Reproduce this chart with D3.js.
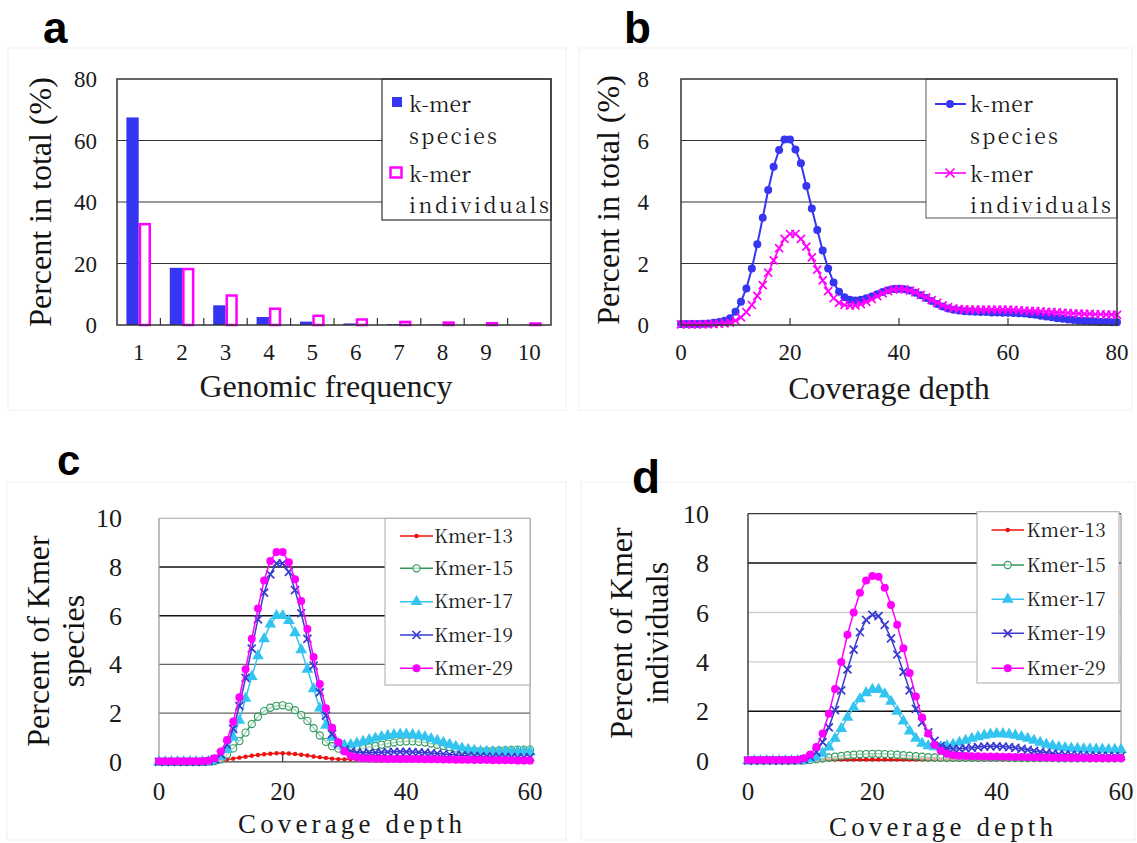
<!DOCTYPE html>
<html><head><meta charset="utf-8">
<script src="https://cdn.jsdelivr.net/npm/d3@7"></script>
<style>
body{margin:0;background:#fff}
svg{display:block}
</style>
</head><body>
<svg id="fig" width="1137" height="843"></svg>
<script>
// ---------------- data ----------------
// a: share of k-mer species / individuals by genomic frequency
const freqCategories = [1, 2, 3, 4, 5, 6, 7, 8, 9, 10];
const freqSpecies = [67.5, 18.6, 6.4, 2.6, 1.1, 0.5, 0.3, 0.15, 0.08, 0.05];
const freqIndividuals = [33.2, 18.6, 10.0, 5.7, 3.4, 2.2, 1.4, 1.2, 1.0, 0.9];

// b: depth distribution, depth 0..80
const depthB = d3.range(0, 81);
const bSpecies = [0.03,0.03,0.03,0.03,0.04,0.05,0.07,0.1,0.14,0.22,0.43,0.76,1.19,1.84,2.63,3.49,4.39,5.15,5.69,6.03,6.03,5.71,5.26,4.52,3.79,3.09,2.42,1.84,1.38,1.08,0.9,0.82,0.8,0.82,0.87,0.93,1.0,1.07,1.13,1.17,1.18,1.16,1.12,1.05,0.97,0.88,0.78,0.68,0.6,0.54,0.5,0.47,0.45,0.44,0.43,0.42,0.42,0.41,0.41,0.4,0.4,0.39,0.38,0.37,0.35,0.33,0.3,0.28,0.25,0.22,0.2,0.18,0.16,0.14,0.13,0.12,0.11,0.1,0.1,0.09,0.09];
const bIndividuals = [0.02,0.02,0.02,0.02,0.02,0.03,0.03,0.04,0.05,0.08,0.14,0.25,0.42,0.65,0.95,1.3,1.7,2.1,2.5,2.8,2.96,2.96,2.8,2.55,2.2,1.8,1.45,1.1,0.87,0.72,0.65,0.63,0.64,0.68,0.75,0.84,0.94,1.03,1.1,1.15,1.17,1.16,1.12,1.06,0.98,0.9,0.81,0.72,0.64,0.58,0.54,0.52,0.51,0.5,0.5,0.5,0.5,0.5,0.5,0.5,0.5,0.49,0.48,0.47,0.46,0.45,0.44,0.43,0.42,0.41,0.4,0.39,0.38,0.37,0.36,0.36,0.35,0.35,0.34,0.34,0.33];

// c, d: depth 0..60 for several k-mer sizes
const depthCD = d3.range(0, 61);
const kmerNames = ["Kmer-13", "Kmer-15", "Kmer-17", "Kmer-19", "Kmer-29"];

const cKmer13 = [0.01,0.01,0.01,0.01,0.01,0.01,0.01,0.01,0.02,0.03,0.06,0.09,0.13,0.17,0.21,0.25,0.28,0.31,0.33,0.35,0.35,0.34,0.32,0.29,0.26,0.22,0.19,0.16,0.13,0.11,0.1,0.1,0.1,0.1,0.1,0.1,0.1,0.1,0.1,0.1,0.1,0.09,0.09,0.09,0.09,0.09,0.08,0.08,0.08,0.08,0.08,0.07,0.07,0.07,0.07,0.07,0.06,0.06,0.06,0.06,0.06];
const cKmer15 = [0,0,0,0,0,0,0,0,0.01,0.03,0.1,0.3,0.55,0.85,1.2,1.55,1.85,2.08,2.22,2.3,2.32,2.27,2.12,1.92,1.68,1.38,1.08,0.82,0.64,0.54,0.5,0.5,0.52,0.55,0.6,0.65,0.7,0.75,0.79,0.82,0.84,0.84,0.82,0.79,0.75,0.7,0.65,0.6,0.55,0.51,0.48,0.46,0.45,0.45,0.46,0.47,0.48,0.49,0.5,0.5,0.5];
const cKmer17 = [0,0,0,0,0,0,0,0,0.01,0.05,0.2,0.5,1.0,1.7,2.6,3.5,4.35,5.05,5.65,6.0,6.0,5.8,5.3,4.6,3.8,3.0,2.2,1.5,1.0,0.75,0.68,0.7,0.76,0.83,0.9,0.97,1.03,1.08,1.11,1.13,1.13,1.11,1.07,1.02,0.95,0.87,0.79,0.71,0.63,0.56,0.5,0.46,0.43,0.42,0.41,0.41,0.41,0.41,0.41,0.41,0.41];
const cKmer19 = [0,0,0,0,0,0,0,0,0.02,0.1,0.3,0.7,1.35,2.3,3.45,4.65,5.85,6.95,7.7,8.15,8.15,7.8,7.05,6.1,5.05,3.95,2.85,1.9,1.15,0.72,0.5,0.42,0.38,0.37,0.37,0.38,0.39,0.4,0.41,0.41,0.41,0.4,0.39,0.38,0.36,0.34,0.32,0.3,0.28,0.26,0.24,0.23,0.22,0.21,0.2,0.2,0.19,0.19,0.18,0.18,0.18];
const cKmer29 = [0.02,0.02,0.02,0.02,0.02,0.02,0.02,0.02,0.05,0.15,0.42,0.9,1.65,2.65,3.8,5.05,6.3,7.45,8.25,8.62,8.62,8.2,7.5,6.6,5.45,4.3,3.2,2.2,1.4,0.8,0.42,0.25,0.18,0.15,0.14,0.13,0.13,0.12,0.12,0.12,0.12,0.11,0.11,0.1,0.1,0.1,0.09,0.09,0.08,0.08,0.08,0.07,0.07,0.07,0.06,0.06,0.06,0.06,0.05,0.05,0.05];

const dKmer13 = [0.01,0.01,0.01,0.01,0.01,0.01,0.01,0.01,0.01,0.01,0.02,0.03,0.04,0.05,0.05,0.05,0.05,0.05,0.05,0.05,0.05,0.05,0.05,0.05,0.05,0.05,0.05,0.05,0.05,0.05,0.05,0.05,0.05,0.05,0.05,0.05,0.05,0.05,0.05,0.05,0.05,0.04,0.04,0.04,0.04,0.04,0.04,0.04,0.04,0.04,0.04,0.04,0.04,0.04,0.04,0.04,0.04,0.04,0.04,0.04,0.04];
const dKmer15 = [0.01,0.01,0.01,0.01,0.01,0.01,0.01,0.01,0.01,0.01,0.03,0.06,0.09,0.13,0.16,0.19,0.22,0.24,0.26,0.27,0.28,0.28,0.27,0.26,0.24,0.22,0.2,0.18,0.16,0.14,0.13,0.12,0.12,0.12,0.12,0.12,0.12,0.12,0.12,0.12,0.12,0.12,0.12,0.11,0.11,0.11,0.11,0.11,0.11,0.11,0.1,0.1,0.1,0.1,0.1,0.1,0.1,0.1,0.1,0.1,0.1];
const dKmer17 = [0,0,0,0,0,0,0,0,0,0.02,0.08,0.15,0.3,0.55,0.9,1.3,1.75,2.15,2.5,2.75,2.88,2.88,2.7,2.4,2.0,1.6,1.2,0.9,0.7,0.6,0.56,0.56,0.6,0.66,0.74,0.82,0.9,0.97,1.03,1.07,1.09,1.09,1.07,1.03,0.97,0.9,0.82,0.74,0.66,0.6,0.55,0.52,0.5,0.49,0.48,0.47,0.46,0.46,0.45,0.45,0.45];
const dKmer19 = [0,0,0,0,0,0,0,0,0.01,0.05,0.15,0.35,0.75,1.35,2.05,2.85,3.7,4.5,5.2,5.7,5.9,5.85,5.5,4.95,4.3,3.6,2.85,2.1,1.55,1.15,0.8,0.6,0.5,0.47,0.48,0.5,0.52,0.55,0.57,0.58,0.58,0.57,0.55,0.52,0.48,0.44,0.4,0.36,0.32,0.29,0.26,0.25,0.24,0.23,0.22,0.21,0.2,0.2,0.19,0.19,0.18];
const dKmer29 = [0.03,0.03,0.03,0.03,0.03,0.03,0.03,0.03,0.04,0.1,0.25,0.55,1.1,1.9,2.9,4.0,5.1,6.0,6.8,7.3,7.48,7.45,7.0,6.3,5.5,4.55,3.55,2.6,1.75,1.1,0.65,0.4,0.28,0.22,0.2,0.19,0.18,0.18,0.17,0.17,0.17,0.16,0.16,0.15,0.15,0.14,0.14,0.13,0.13,0.12,0.12,0.12,0.11,0.11,0.11,0.1,0.1,0.1,0.1,0.1,0.1];

// tick labels
const aYTicks = [0, 20, 40, 60, 80];
const bXTicks = [0, 20, 40, 60, 80];
const bYTicks = [0, 2, 4, 6, 8];
const cdXTicks = [0, 20, 40, 60];
const cdYTicks = [0, 2, 4, 6, 8, 10];

// ---------------- drawing ----------------
const SERIF = '"Liberation Serif", Tinos, "Times New Roman", serif';
const SONG = '"Noto Serif CJK SC", "Liberation Serif", serif';
const SANS = '"Liberation Sans", Arimo, Arial, sans-serif';
const BLUE = "#3535f2", MAGENTA = "#ff00ff";
const seriesStyle = {
  "Kmer-13": {color: "#ee1111", marker: "dot", r: 2.2},
  "Kmer-15": {color: "#2f9a5c", marker: "ring", r: 3.6},
  "Kmer-17": {color: "#33c4f0", marker: "tri", r: 5.2},
  "Kmer-19": {color: "#3a3ad0", marker: "x", r: 4},
  "Kmer-29": {color: "#ff00ff", marker: "dot", r: 4}
};

const svg = d3.select("#fig");
svg.append("rect").attr("width", 1137).attr("height", 843).attr("fill", "#fff");

// faint chart-area outlines
[[8,48,558,362],[579,48,553,362],[7,482,559,358],[581,482,554,358]].forEach(r => {
  svg.append("rect").attr("x", r[0]).attr("y", r[1]).attr("width", r[2]).attr("height", r[3])
    .attr("fill", "none").attr("stroke", "#efefef").attr("stroke-width", 1);
});

function drawMarker(g, type, cx, cy, r, color) {
  if (type === "dot") {
    g.append("circle").attr("cx", cx).attr("cy", cy).attr("r", r).attr("fill", color);
  } else if (type === "ring") {
    g.append("circle").attr("cx", cx).attr("cy", cy).attr("r", r)
      .attr("fill", "#fff").attr("fill-opacity", 0.6).attr("stroke", color).attr("stroke-width", 1.1);
  } else if (type === "tri") {
    g.append("path").attr("transform", `translate(${cx},${cy})`)
      .attr("d", d3.symbol(d3.symbolTriangle, r * r * 2.2)()).attr("fill", color);
  } else if (type === "x") {
    g.append("path").attr("d", `M${cx-r},${cy-r}L${cx+r},${cy+r}M${cx-r},${cy+r}L${cx+r},${cy-r}`)
      .attr("stroke", color).attr("stroke-width", 1.7).attr("fill", "none");
  }
}

function drawSeries(g, xs, ys, x, y, color, marker, r, lw) {
  const line = d3.line().x((d, i) => x(xs[i])).y(d => y(d));
  g.append("path").datum(ys).attr("d", line).attr("fill", "none")
    .attr("stroke", color).attr("stroke-width", lw);
  ys.forEach((v, i) => drawMarker(g, marker, x(xs[i]), y(v), r, color));
}

function serifText(g, str, x, y, size, anchor) {
  return g.append("text").style("font-family", SERIF).attr("x", x).attr("y", y).text(str)
    .attr("font-size", size).attr("fill", "#1a1a1a").attr("text-anchor", anchor || "start");
}

// evenly spaced text stretched to a fixed run length
function spacedText(g, str, x, y, size, len, family) {
  return g.append("text").style("font-family", family || SONG).attr("x", x).attr("y", y).text(str)
    .attr("font-size", size).attr("fill", "#1a1a1a")
    .attr("textLength", len).attr("lengthAdjust", "spacing");
}

function rotText(g, str, x, y, size) {
  return g.append("text").style("font-family", SERIF).attr("transform", `translate(${x},${y}) rotate(-90)`)
    .text(str).attr("text-anchor", "middle").attr("font-size", size).attr("fill", "#111");
}

function panelLetter(t, x, y, size) {
  svg.append("text").style("font-family", SANS).attr("x", x).attr("y", y).text(t)
    .attr("font-weight", "bold").attr("font-size", size).attr("fill", "#000");
}

// ===== panel a =====
{
  const L = 117, R = 551, T = 79, B = 325;
  const g = svg.append("g");
  const x = d3.scaleBand().domain(freqCategories).range([L, R]).paddingInner(0.433).paddingOuter(0.2165);
  const xs = d3.scaleBand().domain(["species", "individuals"]).range([0, x.bandwidth()]);
  const y = d3.scaleLinear().domain([0, 80]).range([B, T]);

  aYTicks.filter(v => v > 0 && v < 80).forEach(v => {
    g.append("line").attr("x1", L).attr("x2", R).attr("y1", y(v)).attr("y2", y(v))
      .attr("stroke", "#333").attr("stroke-width", 1.2);
  });

  freqCategories.forEach((c, i) => {
    const v = freqSpecies[i];
    g.append("rect").attr("x", x(c) + xs("species")).attr("y", y(v))
      .attr("width", xs.bandwidth()).attr("height", B - y(v)).attr("fill", BLUE);
    const w = freqIndividuals[i];
    g.append("rect").attr("x", x(c) + xs("individuals") + 1.25).attr("y", y(w) + 1.25)
      .attr("width", xs.bandwidth() - 2.5).attr("height", Math.max(0.5, B - y(w) - 1.25))
      .attr("fill", "#fff").attr("stroke", MAGENTA).attr("stroke-width", 2.5);
  });

  // category separators on the axis
  freqCategories.slice(1).forEach(c => {
    const xx = x(c) - x.step() * x.paddingInner() / 2;
    g.append("line").attr("x1", xx).attr("x2", xx).attr("y1", B).attr("y2", B - 7)
      .attr("stroke", "#333").attr("stroke-width", 1.2);
  });

  // legend
  g.append("rect").attr("x", 382).attr("y", T).attr("width", R - 382).attr("height", 220 - T)
    .attr("fill", "#fff").attr("stroke", "#333").attr("stroke-width", 1.2);
  g.append("rect").attr("x", 392).attr("y", 97).attr("width", 10).attr("height", 10).attr("fill", BLUE);
  g.append("rect").attr("x", 390.5).attr("y", 167.5).attr("width", 11).attr("height", 10)
    .attr("fill", "#fff").attr("stroke", MAGENTA).attr("stroke-width", 2.5);
  spacedText(g, "k-mer", 409, 111.5, 21, 62);
  spacedText(g, "species", 409, 143.5, 21, 88);
  spacedText(g, "k-mer", 409, 181.5, 21, 62);
  spacedText(g, "individuals", 409, 213, 21, 140);

  g.append("rect").attr("x", L).attr("y", T).attr("width", R - L).attr("height", B - T)
    .attr("fill", "none").attr("stroke", "#333").attr("stroke-width", 1.5);

  aYTicks.forEach(v => serifText(g, v, 97, y(v) + 8, 23, "end"));
  freqCategories.forEach(c => serifText(g, c, x(c) + x.bandwidth() / 2, 360, 23, "middle"));
  serifText(g, "Genomic frequency", 326, 397, 32, "middle");
  rotText(g, "Percent in total (%)", 51, 202, 32);
  panelLetter("a", 43, 43, 44);
}

// ===== panel b =====
{
  const L = 681, R = 1117, T = 79, B = 325;
  const g = svg.append("g");
  const x = d3.scaleLinear().domain([0, 80]).range([L, R]);
  const y = d3.scaleLinear().domain([0, 8]).range([B, T]);

  bYTicks.filter(v => v > 0 && v < 8).forEach(v => {
    g.append("line").attr("x1", L).attr("x2", R).attr("y1", y(v)).attr("y2", y(v))
      .attr("stroke", "#333").attr("stroke-width", 1.2);
  });
  bXTicks.filter(v => v > 0 && v < 80).forEach(v => {
    g.append("line").attr("x1", x(v)).attr("x2", x(v)).attr("y1", B).attr("y2", B - 7)
      .attr("stroke", "#333").attr("stroke-width", 1.2);
  });

  // legend box
  g.append("rect").attr("x", 926).attr("y", T).attr("width", R - 926).attr("height", 218 - T)
    .attr("fill", "#fff").attr("stroke", "#555").attr("stroke-width", 1);

  drawSeries(g, depthB, bSpecies, x, y, BLUE, "dot", 4, 2);
  drawSeries(g, depthB, bIndividuals, x, y, MAGENTA, "x", 4, 1.6);

  g.append("line").attr("x1", 935).attr("x2", 966).attr("y1", 104).attr("y2", 104).attr("stroke", BLUE).attr("stroke-width", 2);
  drawMarker(g, "dot", 950, 104, 4, BLUE);
  g.append("line").attr("x1", 935).attr("x2", 966).attr("y1", 173).attr("y2", 173).attr("stroke", MAGENTA).attr("stroke-width", 1.6);
  drawMarker(g, "x", 950, 173, 4.5, MAGENTA);
  spacedText(g, "k-mer", 970, 111.5, 21, 63);
  spacedText(g, "species", 970, 143.5, 21, 88);
  spacedText(g, "k-mer", 970, 181.5, 21, 63);
  spacedText(g, "individuals", 970, 213, 21, 141);

  g.append("rect").attr("x", L).attr("y", T).attr("width", R - L).attr("height", B - T)
    .attr("fill", "none").attr("stroke", "#333").attr("stroke-width", 1.5);

  bYTicks.forEach(v => serifText(g, v, 649, y(v) + 8, 23, "end"));
  bXTicks.forEach(v => serifText(g, v, x(v), 360, 23, "middle"));
  serifText(g, "Coverage depth", 889, 399, 32, "middle");
  rotText(g, "Percent in total (%)", 619, 200, 32);
  panelLetter("b", 624, 43, 44);
}

// ===== panels c and d =====
function kmerPanel(cfg) {
  const {L, R, T, B, series, grid, frame, legend, yTitle, xTitle, yLabelX} = cfg;
  const g = svg.append("g");
  const x = d3.scaleLinear().domain([0, 60]).range([L, R]);
  const y = d3.scaleLinear().domain([0, 10]).range([B, T]);

  cdYTicks.filter(v => v > 0 && v < 10).forEach(v => {
    g.append("line").attr("x1", L).attr("x2", R).attr("y1", y(v)).attr("y2", y(v))
      .attr("stroke", grid[v]).attr("stroke-width", grid[v] === "#111" ? 1.5 : 1.3);
  });
  // plot frame
  g.append("line").attr("x1", L).attr("x2", R).attr("y1", T).attr("y2", T).attr("stroke", frame.top).attr("stroke-width", 1.2);
  g.append("line").attr("x1", R).attr("x2", R).attr("y1", T).attr("y2", B).attr("stroke", frame.right).attr("stroke-width", 1.2);
  g.append("line").attr("x1", L).attr("x2", L).attr("y1", T).attr("y2", B).attr("stroke", frame.left).attr("stroke-width", 1.3);
  g.append("line").attr("x1", L).attr("x2", R).attr("y1", B).attr("y2", B).attr("stroke", "#444").attr("stroke-width", 1.3);
  cdXTicks.filter(v => v > 0 && v < 60).forEach(v => {
    g.append("line").attr("x1", x(v)).attr("x2", x(v)).attr("y1", B).attr("y2", B - 7)
      .attr("stroke", "#333").attr("stroke-width", 1.2);
  });

  // legend box
  g.append("rect").attr("x", legend.x0).attr("y", legend.y0).attr("width", legend.x1 - legend.x0)
    .attr("height", legend.y1 - legend.y0).attr("fill", "#fff").attr("stroke", "#aaa").attr("stroke-width", 1);

  kmerNames.forEach((name, k) => {
    const s = seriesStyle[name];
    drawSeries(g, depthCD, series[k], x, y, s.color, s.marker, s.r, 1.5);
  });

  kmerNames.forEach((name, k) => {
    const s = seriesStyle[name];
    const ly = legend.rows[k];
    g.append("line").attr("x1", legend.lx0).attr("x2", legend.lx1).attr("y1", ly).attr("y2", ly)
      .attr("stroke", s.color).attr("stroke-width", 1.5);
    drawMarker(g, s.marker, (legend.lx0 + legend.lx1) / 2, ly, s.r, s.color);
    spacedText(g, name, legend.tx, ly + 6.5, 19, 79);
  });

  cdYTicks.forEach(v => serifText(g, v, yLabelX, y(v) + 9, 26, "end"));
  cdXTicks.forEach(v => serifText(g, v, x(v), 800, 25, "middle"));
  spacedText(g, "Coverage depth", xTitle.x, xTitle.y, 27, 224, SERIF);
  yTitle.lines.forEach((t, i) => rotText(g, t, yTitle.xs[i], yTitle.cy, 32));
}

kmerPanel({
  L: 159, R: 530, T: 518.3, B: 761.8,
  series: [cKmer13, cKmer15, cKmer17, cKmer19, cKmer29],
  grid: {2: "#666", 4: "#666", 6: "#111", 8: "#111"},
  frame: {top: "#bbb", right: "#999", left: "#999"},
  legend: {x0: 385, x1: 530, y0: 518.3, y1: 685, rows: [536, 568.3, 601.7, 635, 668.3], lx0: 400, lx1: 433, tx: 434},
  yTitle: {lines: ["Percent of Kmer", "species"], xs: [49, 84], cy: 641},
  xTitle: {x: 238, y: 833},
  yLabelX: 122
});
panelLetter("c", 57, 475, 42);

kmerPanel({
  L: 748, R: 1121, T: 513.7, B: 760.7,
  series: [dKmer13, dKmer15, dKmer17, dKmer19, dKmer29],
  grid: {2: "#111", 4: "#ccc", 6: "#ccc", 8: "#111"},
  frame: {top: "#333", right: "#999", left: "#222"},
  legend: {x0: 977, x1: 1119, y0: 511.7, y1: 683, rows: [530, 565, 599.3, 633.3, 668.3], lx0: 991.5, lx1: 1024, tx: 1026.6},
  yTitle: {lines: ["Percent of Kmer", "individuals"], xs: [631.5, 667.7], cy: 633},
  xTitle: {x: 829, y: 836},
  yLabelX: 709
});
panelLetter("d", 632, 493, 46);
</script>
</body></html>
